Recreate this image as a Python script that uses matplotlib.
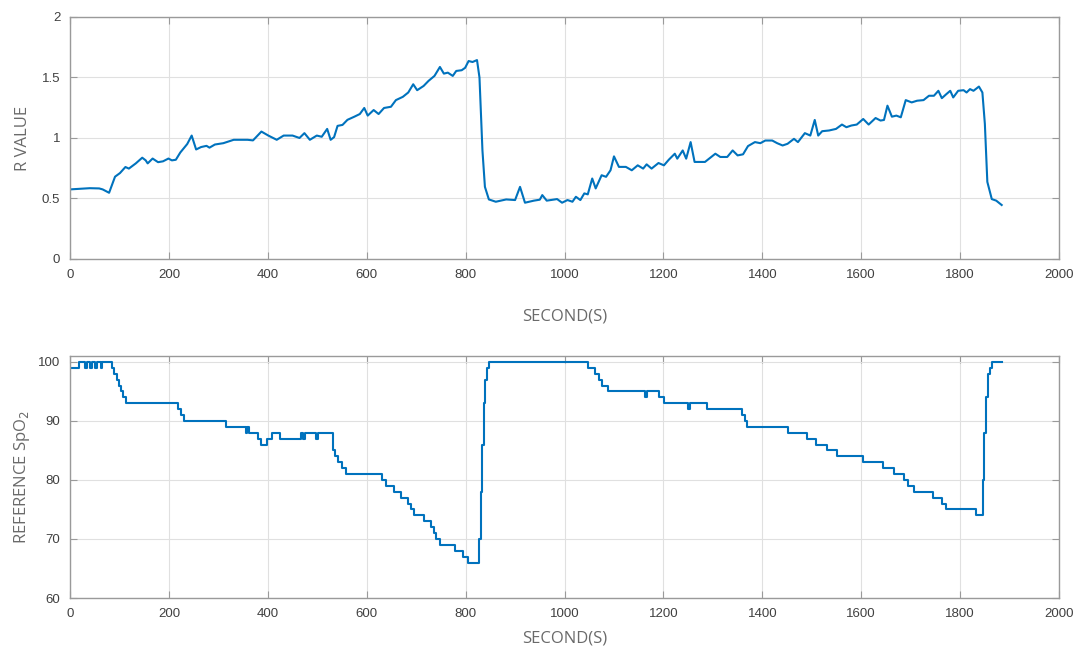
import matplotlib
matplotlib.use('Agg')
import matplotlib.pyplot as plt
import numpy as np

# R value trace (seconds, R)
r_time = [0, 20, 40, 59, 66, 79, 91, 101, 112, 119, 133, 146, 153, 157, 167, 178, 188, 199,
          206, 214, 223, 237, 246, 255, 265, 276, 282, 293, 310, 331, 359, 370, 387, 401,
          418, 432, 450, 464, 474, 485, 499, 509, 520, 527, 534, 541, 551, 561, 575, 586,
          595, 602, 614, 624, 635, 649, 659, 673, 684, 694, 702, 715, 725, 737, 748, 756,
          764, 774, 781, 792, 799, 806, 814, 823, 828, 834, 839, 847, 861, 882, 900, 910,
          920, 938, 950, 955, 964, 985, 995, 1006, 1016, 1023, 1032, 1040, 1047, 1056,
          1063, 1075, 1084, 1093, 1100, 1110, 1124, 1136, 1148, 1159, 1166, 1176, 1190,
          1201, 1211, 1223, 1228, 1239, 1246, 1255, 1263, 1284, 1305, 1315, 1329, 1340,
          1350, 1361, 1371, 1385, 1396, 1406, 1420, 1430, 1441, 1451, 1464, 1472, 1486,
          1497, 1506, 1513, 1521, 1535, 1549, 1561, 1570, 1580, 1591, 1604, 1615, 1629,
          1639, 1646, 1653, 1662, 1671, 1680, 1690, 1702, 1713, 1726, 1737, 1747, 1756,
          1763, 1772, 1780, 1786, 1796, 1807, 1813, 1820, 1827, 1838, 1845, 1850, 1855,
          1864, 1873, 1884]
r_value = [0.575, 0.58, 0.585, 0.583, 0.575, 0.547, 0.68, 0.71, 0.76, 0.747, 0.79, 0.837,
           0.815, 0.79, 0.83, 0.80, 0.807, 0.83, 0.815, 0.82, 0.88, 0.95, 1.02, 0.905,
           0.925, 0.935, 0.92, 0.946, 0.957, 0.985, 0.985, 0.98, 1.053, 1.02, 0.985, 1.02,
           1.02, 1.0, 1.04, 0.985, 1.02, 1.01, 1.075, 0.985, 1.007, 1.10, 1.108, 1.15,
           1.176, 1.198, 1.248, 1.185, 1.231, 1.198, 1.248, 1.258, 1.313, 1.34, 1.376,
           1.444, 1.395, 1.43, 1.472, 1.513, 1.587, 1.532, 1.54, 1.513, 1.554, 1.56, 1.58,
           1.636, 1.628, 1.644, 1.5, 0.897, 0.596, 0.492, 0.473, 0.492, 0.487, 0.596,
           0.465, 0.482, 0.49, 0.528, 0.482, 0.495, 0.465, 0.487, 0.473, 0.514, 0.487,
           0.542, 0.534, 0.665, 0.583, 0.692, 0.679, 0.733, 0.848, 0.761, 0.761, 0.733,
           0.774, 0.747, 0.782, 0.747, 0.793, 0.774, 0.821, 0.87, 0.829, 0.897, 0.829,
           0.966, 0.802, 0.802, 0.87, 0.843, 0.843, 0.897, 0.856, 0.865, 0.933, 0.966,
           0.957, 0.979, 0.979, 0.957, 0.938, 0.952, 0.993, 0.966, 1.04, 1.02, 1.149,
           1.02, 1.056, 1.062, 1.075, 1.111, 1.089, 1.103, 1.111, 1.157, 1.111, 1.165,
           1.144, 1.149, 1.267, 1.176, 1.185, 1.171, 1.313, 1.294, 1.308, 1.313, 1.349,
           1.349, 1.39, 1.329, 1.362, 1.39, 1.335, 1.39, 1.395, 1.376, 1.404, 1.39, 1.425,
           1.376, 1.116, 0.637, 0.495, 0.482, 0.446]

# reference SpO2 (step changes: time, new level)
spo2_time = [0, 19, 30, 34, 40, 44, 50, 54, 62, 65, 84, 89, 94, 99, 103, 108, 114, 129,
             218, 224, 231, 237, 316, 355, 358, 361, 380, 387, 398, 408, 425, 467, 471,
             475, 481, 497, 501, 532, 536, 542, 550, 559, 570, 630, 638, 656, 670, 684,
             689, 696, 715, 729, 736, 741, 748, 778, 795, 804, 828, 831, 834, 837, 840,
             843, 847, 1048, 1062, 1069, 1076, 1088, 1162, 1167, 1192, 1201, 1249, 1254,
             1288, 1358, 1364, 1370, 1452, 1490, 1509, 1530, 1551, 1603, 1645, 1666,
             1687, 1695, 1706, 1746, 1764, 1771, 1832, 1846, 1849, 1852, 1856, 1860,
             1864, 1884]
spo2_value = [99, 100, 99, 100, 99, 100, 99, 100, 99, 100, 99, 98, 97, 96, 95, 94, 93,
              93, 92, 91, 90, 90, 89, 88, 89, 88, 87, 86, 87, 88, 87, 88, 87, 88, 88, 87,
              88, 85, 84, 83, 82, 81, 81, 80, 79, 78, 77, 76, 75, 74, 73, 72, 71, 70, 69,
              68, 67, 66, 70, 78, 86, 93, 97, 99, 100, 99, 98, 97, 96, 95, 94, 95, 94, 93,
              92, 93, 92, 91, 90, 89, 88, 87, 86, 85, 84, 83, 82, 81, 80, 79, 78, 77, 76,
              75, 74, 80, 88, 94, 98, 99, 100, 100]

xticks = [0, 200, 400, 600, 800, 1000, 1200, 1400, 1600, 1800, 2000]
line_color = '#0072BD'
label_color = '#6a6a6a'
tick_color = '#404040'

plt.rcParams['font.family'] = ['Liberation Sans', 'DejaVu Sans']

fig = plt.figure(figsize=(10.79, 6.51), dpi=100)
ax1 = fig.add_axes([0.0649, 0.6022, 0.9166, 0.3717])
ax2 = fig.add_axes([0.0649, 0.0814, 0.9166, 0.3717])


def style(ax):
    ax.set_xlim(0, 2000)
    ax.set_xticks(xticks)
    ax.grid(True, color='#e0e0e0', linewidth=0.8)
    ax.set_axisbelow(True)
    for s in ax.spines.values():
        s.set_color('#9a9a9a')
        s.set_linewidth(1.0)
    ax.tick_params(axis='both', direction='in', top=True, right=True, length=5,
                   width=0.8, color='#9a9a9a', labelcolor=tick_color, labelsize=9.5, pad=7)


ax1.plot(r_time, r_value, color=line_color, linewidth=1.5)
ax1.set_ylim(0, 2)
ax1.set_yticks([0, 0.5, 1, 1.5, 2])
ax1.set_yticklabels(['0', '0.5', '1', '1.5', '2'])
style(ax1)
ax1.set_xlabel('SECOND(S)', family='Open Sans', fontsize=12, color=label_color, labelpad=20)
ax1.set_ylabel('R VALUE', family='Open Sans', fontsize=12, color=label_color, labelpad=8)

ax2.step(spo2_time, spo2_value, where='post', color=line_color, linewidth=1.5)
ax2.set_ylim(60, 101)
ax2.set_yticks([60, 70, 80, 90, 100])
style(ax2)
ax2.set_xlabel('SECOND(S)', family='Open Sans', fontsize=12, color=label_color, labelpad=8)
ax2.set_ylabel('REFERENCE SpO$_2$', family='Open Sans', fontsize=12, color=label_color,
               labelpad=4)

fig.savefig('out.png', dpi=100)
